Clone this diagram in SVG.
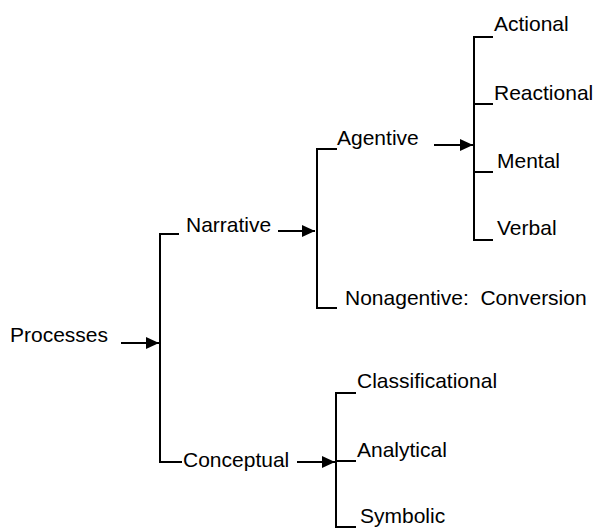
<svg xmlns="http://www.w3.org/2000/svg" width="593" height="529" viewBox="0 0 593 529">
<defs>
<style>
text{font-family:"Liberation Sans",Arial,sans-serif;font-size:21px;fill:#000}
.ln{stroke:#000;stroke-width:2;fill:none}
</style>
<marker id="ah" markerWidth="14" markerHeight="12" refX="13" refY="6" orient="auto" markerUnits="userSpaceOnUse">
<path d="M0,0 L13,6 L0,12 Z" fill="#000"/>
</marker>
</defs>
<rect width="593" height="529" fill="#fff"/>
<g id="connectors">
<path class="ln" d="M121,343 H159" marker-end="url(#ah)"/>
<path class="ln" d="M179,234 H160 V462 H182"/>
<path class="ln" d="M278,231 H315" marker-end="url(#ah)"/>
<path class="ln" d="M337,149 H317 V308 H337"/>
<path class="ln" d="M434,145 H473" marker-end="url(#ah)"/>
<path class="ln" d="M493,37 H474 V240 H493 M474,104 H493 M474,172 H493"/>
<path class="ln" d="M297,462 H335" marker-end="url(#ah)"/>
<path class="ln" d="M356,393 H336 V527 H356 M336,461 H356"/>
</g>
<g id="n-processes"><text x="10" y="342">Processes</text></g>
<g id="n-narrative"><text x="186" y="232">Narrative</text></g>
<g id="n-conceptual"><text x="183" y="467">Conceptual</text></g>
<g id="n-agentive"><text x="337" y="145">Agentive</text></g>
<g id="n-nonagentive"><text x="345" y="305" xml:space="preserve">Nonagentive:  Conversion</text></g>
<g id="n-actional"><text x="494" y="31">Actional</text></g>
<g id="n-reactional"><text x="494" y="100">Reactional</text></g>
<g id="n-mental"><text x="497" y="168">Mental</text></g>
<g id="n-verbal"><text x="497" y="235">Verbal</text></g>
<g id="n-classificational"><text x="357" y="388">Classificational</text></g>
<g id="n-analytical"><text x="357" y="457">Analytical</text></g>
<g id="n-symbolic"><text x="360" y="523">Symbolic</text></g>
</svg>
